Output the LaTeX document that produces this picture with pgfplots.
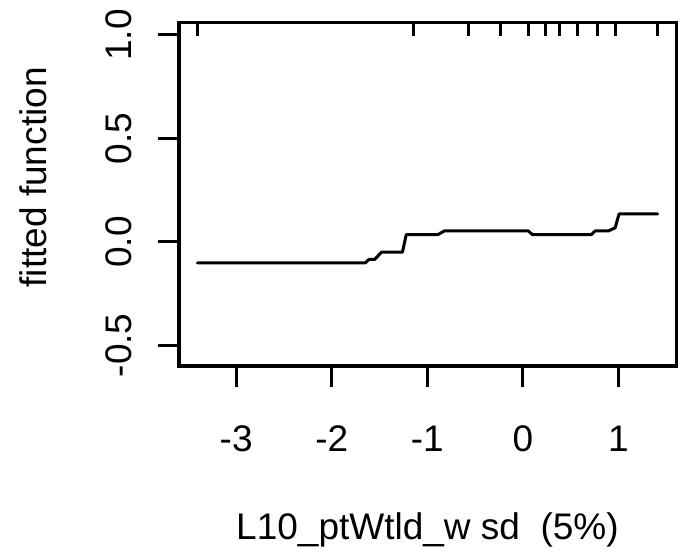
\documentclass[border=0pt]{standalone}
\usepackage{fontspec}
\setmainfont{Liberation Sans}
\usepackage{pgfplots}
\pgfplotsset{compat=1.18}
\newcommand{\bigf}{\fontsize{37bp}{44bp}\selectfont}
\begin{document}
\begin{tikzpicture}
\path[use as bounding box] (0bp,0bp) rectangle (683bp,555bp);
\begin{axis}[
  at={(179bp,189bp)}, anchor=south west,
  scale only axis, width=497bp, height=343bp,
  xmin=-3.598, xmax=1.603, ymin=-0.60, ymax=1.058,
  axis line style={line width=3bp},
  xtick={-3,-2,-1,0,1}, xticklabels={-3,-2,-1,0,1},
  ytick={-0.5,0,0.5,1}, yticklabels={-0.5,0.0,0.5,1.0},
  xtick pos=bottom, ytick pos=left,
  tick align=outside, major tick length=21bp,
  tick style={line width=3bp, black},
  xticklabel style={font=\bigf, anchor=base, inner sep=0pt},
  yticklabel style={font=\bigf, rotate=90, anchor=base, inner sep=0pt},
  xticklabel shift=64bp, yticklabel shift=27bp,
  xlabel={L10\_ptWtld\_w sd\ \ (5\%)},
  ylabel={fitted function},
  xlabel style={font=\bigf, at={(axis description cs:0.5,0)}, anchor=base, inner sep=0pt, yshift=-173bp},
  ylabel style={font=\bigf, at={(axis description cs:-0.2656,0.55)}, rotate=0, anchor=base, inner sep=0pt},
]
\addplot[black, line width=3bp, line cap=round, line join=round] coordinates {
(-3.405,-0.102) (-1.65,-0.102) (-1.61,-0.085) (-1.55,-0.085) (-1.48,-0.050)
(-1.26,-0.050) (-1.22,0.035) (-0.89,0.035) (-0.82,0.053) (0.058,0.053)
(0.10,0.035) (0.716,0.035) (0.758,0.053) (0.896,0.053) (0.966,0.068)
(1.007,0.135) (1.41,0.135)
};
\addplot[black, line width=3bp, unbounded coords=jump] coordinates {
(-3.405,1.058) (-3.405,0.995) (-3.405,nan)
(-1.14,1.058) (-1.14,0.995) (-1.14,nan)
(-0.566,1.058) (-0.566,0.995) (-0.566,nan)
(-0.236,1.058) (-0.236,0.995) (-0.236,nan)
(0.058,1.058) (0.058,0.995) (0.058,nan)
(0.238,1.058) (0.238,0.995) (0.238,nan)
(0.384,1.058) (0.384,0.995) (0.384,nan)
(0.567,1.058) (0.567,0.995) (0.567,nan)
(0.786,1.058) (0.786,0.995) (0.786,nan)
(0.966,1.058) (0.966,0.995) (0.966,nan)
(1.41,1.058) (1.41,0.995)
};
\end{axis}
\end{tikzpicture}
\end{document}
